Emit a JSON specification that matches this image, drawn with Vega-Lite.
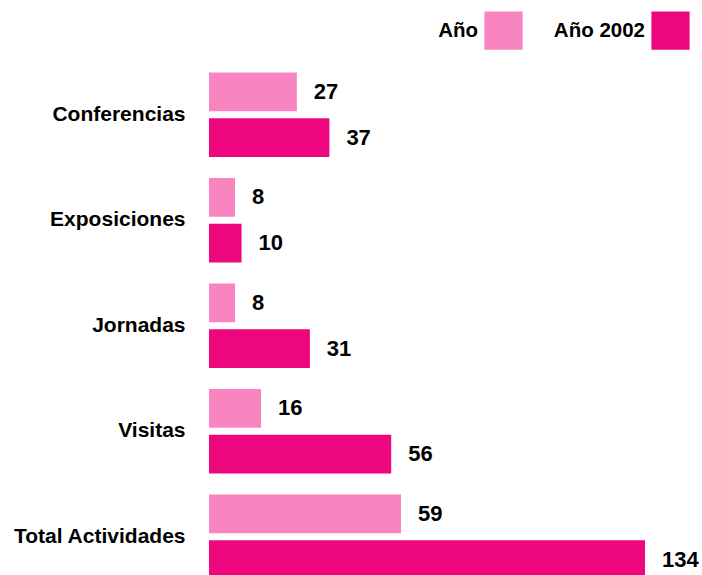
{
  "$schema": "https://vega.github.io/schema/vega-lite/v6.json",
  "autosize": {"type": "none"},
  "padding": {"left": 209, "top": 62, "right": 57, "bottom": 0},
  "width": 436,
  "height": 527.5,
  "background": "white",
  "data": {"values": [
    {"categoria": "Conferencias", "serie": "Año", "valor": 27},
    {"categoria": "Conferencias", "serie": "Año 2002", "valor": 37},
    {"categoria": "Exposiciones", "serie": "Año", "valor": 8},
    {"categoria": "Exposiciones", "serie": "Año 2002", "valor": 10},
    {"categoria": "Jornadas", "serie": "Año", "valor": 8},
    {"categoria": "Jornadas", "serie": "Año 2002", "valor": 31},
    {"categoria": "Visitas", "serie": "Año", "valor": 16},
    {"categoria": "Visitas", "serie": "Año 2002", "valor": 56},
    {"categoria": "Total Actividades", "serie": "Año", "valor": 59},
    {"categoria": "Total Actividades", "serie": "Año 2002", "valor": 134}
  ]},
  "encoding": {
    "y": {
      "field": "categoria", "type": "nominal",
      "sort": ["Conferencias", "Exposiciones", "Jornadas", "Visitas", "Total Actividades"],
      "scale": {"paddingInner": 0.2, "paddingOuter": 0.1},
      "axis": {"title": null, "domain": false, "ticks": false, "labelPadding": 24, "labelFontSize": 21, "labelFont": "Liberation Sans", "labelFontWeight": "bold", "labelColor": "#000000"}
    },
    "yOffset": {"field": "serie", "type": "nominal", "sort": ["Año", "Año 2002"], "scale": {"paddingInner": 0.15, "paddingOuter": 0}},
    "x": {"field": "valor", "type": "quantitative", "scale": {"domain": [0, 134], "nice": false, "zero": true}, "axis": null}
  },
  "layer": [
    {
      "mark": {"type": "bar"},
      "encoding": {
        "color": {
          "field": "serie", "type": "nominal",
          "scale": {"domain": ["Año", "Año 2002"], "range": ["#F884C0", "#EE067F"]},
          "legend": {
            "orient": "none", "legendX": 275, "legendY": -51,
            "direction": "horizontal", "title": null,
            "symbolType": "square", "symbolSize": 1460, "symbolStrokeWidth": 0, "symbolOpacity": 1,
            "labelFontSize": 20.5, "labelFont": "Liberation Sans", "labelFontWeight": "bold", "labelColor": "#000000",
            "labelAlign": "right", "labelOffset": -45, "columnPadding": 30
          }
        }
      }
    },
    {
      "mark": {"type": "text", "align": "left", "baseline": "middle", "dx": 17, "fontSize": 22, "fontWeight": "bold", "font": "Liberation Sans", "color": "#000000"},
      "encoding": {"text": {"field": "valor", "type": "quantitative"}}
    }
  ],
  "config": {"view": {"stroke": null}}
}
